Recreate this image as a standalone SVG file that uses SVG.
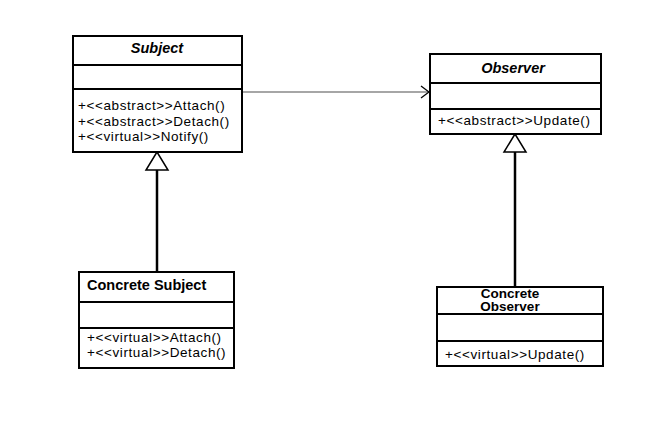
<svg xmlns="http://www.w3.org/2000/svg" width="650" height="430" viewBox="0 0 650 430">
<style>
.box{fill:#fff;stroke:#000;stroke-width:2}
.div{stroke:#000;stroke-width:2}
.t{font-family:"Liberation Sans",Arial,sans-serif;font-size:14.5px;fill:#000}
.m{font-size:13.5px;letter-spacing:0.6px}
.b{font-weight:bold}
.i{font-style:italic}
.s{font-size:13.5px}
.tri{fill:#fff;stroke:#000;stroke-width:1.5}
.gen{stroke:#000;stroke-width:2.5;fill:none}
.dep{stroke:#888;stroke-width:1.5;fill:none}
</style>
<defs>
<marker id="open" viewBox="0 0 10 14" refX="10" refY="7" markerWidth="10" markerHeight="14" markerUnits="userSpaceOnUse" orient="auto">
<path d="M1,1 L9,7 L1,13" fill="none" stroke="#000" stroke-width="1.3"/>
</marker>
</defs>
<rect width="650" height="430" fill="#fff"/>
<g id="connectors">
<line class="dep" x1="242" y1="92" x2="430" y2="92" marker-end="url(#open)"/>
<line class="gen" x1="157" y1="170" x2="157" y2="272"/>
<polygon class="tri" points="157,152 146,170 168,170"/>
<line class="gen" x1="515" y1="152" x2="515" y2="287"/>
<polygon class="tri" points="515,134 504,152 526,152"/>
</g>
<g id="subject">
<rect class="box" x="73" y="36" width="169" height="116"/>
<line class="div" x1="73" y1="65" x2="242" y2="65"/>
<line class="div" x1="73" y1="89" x2="242" y2="89"/>
<text class="t b i" x="157" y="53" text-anchor="middle">Subject</text>
<text class="t m" x="78" y="110">+&lt;&lt;abstract&gt;&gt;Attach()</text>
<text class="t m" x="78" y="125.5">+&lt;&lt;abstract&gt;&gt;Detach()</text>
<text class="t m" x="78" y="141">+&lt;&lt;virtual&gt;&gt;Notify()</text>
</g>
<g id="observer">
<rect class="box" x="430" y="54" width="171" height="80"/>
<line class="div" x1="430" y1="83" x2="601" y2="83"/>
<line class="div" x1="430" y1="109" x2="601" y2="109"/>
<text class="t b i" x="513" y="73" text-anchor="middle">Observer</text>
<text class="t m" x="438" y="125">+&lt;&lt;abstract&gt;&gt;Update()</text>
</g>
<g id="concrete-subject">
<rect class="box" x="79" y="272" width="155" height="96"/>
<line class="div" x1="79" y1="302" x2="234" y2="302"/>
<line class="div" x1="79" y1="328" x2="234" y2="328"/>
<text class="t b" x="87" y="290">Concrete Subject</text>
<text class="t m" x="87" y="342">+&lt;&lt;virtual&gt;&gt;Attach()</text>
<text class="t m" x="87" y="357">+&lt;&lt;virtual&gt;&gt;Detach()</text>
</g>
<g id="concrete-observer">
<rect class="box" x="437" y="287" width="166" height="79"/>
<line class="div" x1="437" y1="314" x2="603" y2="314"/>
<line class="div" x1="437" y1="341" x2="603" y2="341"/>
<text class="t b s" x="510" y="297.5" text-anchor="middle">Concrete</text>
<text class="t b s" x="510" y="311" text-anchor="middle">Observer</text>
<text class="t m" x="445" y="359">+&lt;&lt;virtual&gt;&gt;Update()</text>
</g>
</svg>
